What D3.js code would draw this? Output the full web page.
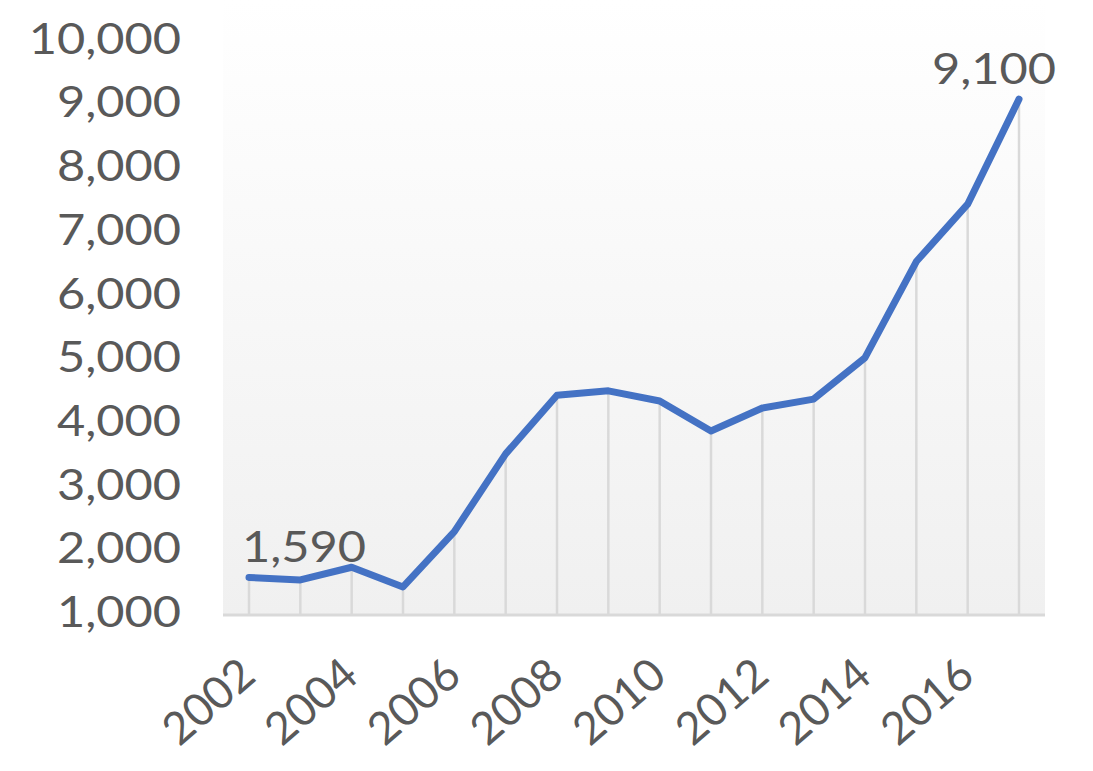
<!DOCTYPE html>
<html>
<head>
<meta charset="utf-8">
<script src="https://cdn.jsdelivr.net/npm/d3@7"></script>
<style>
  html, body { margin: 0; padding: 0; background: #ffffff; }
  svg { display: block; }
  text { font-family: Lato, "Open Sans", sans-serif; fill: #595959; }
</style>
</head>
<body>
<svg id="chart" width="1093" height="771"></svg>
<script>
const years  = [2002, 2003, 2004, 2005, 2006, 2007, 2008, 2009, 2010, 2011, 2012, 2013, 2014, 2015, 2016, 2017];
const values = [1590, 1550, 1750, 1440, 2310, 3530, 4450, 4520, 4360, 3890, 4250, 4390, 5040, 6550, 7450, 9100];
const yTicks = [1000, 2000, 3000, 4000, 5000, 6000, 7000, 8000, 9000, 10000];
const xTickLabels = [2002, 2004, 2006, 2008, 2010, 2012, 2014, 2016];
const labelled = [{year: 2002, value: 1590, pos: "start"}, {year: 2017, value: 9100, pos: "end"}];

const svg = d3.select("#chart");
const SX = 1.16; // horizontal text stretch seen in the reference
const fmt = d3.format(",");

const x = d3.scaleLinear().domain([2002, 2017]).range([249, 1019]);
const y = d3.scaleLinear().domain([1000, 10000]).range([615, 41.8]);

const plotLeft = 223, plotRight = 1045, plotTop = 0, plotBottom = y(1000);

// background gradient
const defs = svg.append("defs");
const grad = defs.append("linearGradient").attr("id", "bg").attr("x1", 0).attr("y1", 0).attr("x2", 0).attr("y2", 1);
grad.append("stop").attr("offset", "0%").attr("stop-color", "#ffffff");
grad.append("stop").attr("offset", "100%").attr("stop-color", "#f0f0f0");
svg.append("rect")
  .attr("x", plotLeft).attr("y", plotTop)
  .attr("width", plotRight - plotLeft).attr("height", plotBottom - plotTop)
  .attr("fill", "url(#bg)");

// drop lines
svg.append("g").selectAll("line").data(years).join("line")
  .attr("x1", (d) => x(d)).attr("x2", (d) => x(d))
  .attr("y1", (d, i) => y(values[i])).attr("y2", y(1000))
  .attr("stroke", "#d9d9d9").attr("stroke-width", 2.5);

// x axis line
svg.append("line")
  .attr("x1", plotLeft).attr("x2", plotRight)
  .attr("y1", y(1000)).attr("y2", y(1000))
  .attr("stroke", "#d9d9d9").attr("stroke-width", 3);

// y axis labels
svg.append("g").selectAll("text").data(yTicks).join("text")
  .attr("text-anchor", "end")
  .attr("font-size", 42)
  .attr("transform", (d) => `translate(181,${y(d) + 12}) scale(${SX},1)`)
  .text((d) => fmt(d));

// x axis labels
svg.append("g").selectAll("text").data(xTickLabels).join("text")
  .attr("text-anchor", "end")
  .attr("font-size", 45)
  .attr("transform", (d) => `translate(${x(d) + 9},679) rotate(-41)`)
  .text((d) => d);

// line
const line = d3.line().x((d) => x(d[0])).y((d) => y(d[1]));
svg.append("path")
  .datum(years.map((yr, i) => [yr, values[i]]))
  .attr("d", line)
  .attr("fill", "none")
  .attr("stroke", "#4472C4")
  .attr("stroke-width", 7)
  .attr("stroke-linejoin", "round")
  .attr("stroke-linecap", "round");

// data labels
svg.append("g").selectAll("text").data(labelled).join("text")
  .attr("text-anchor", (d) => d.pos)
  .attr("font-size", 42)
  .attr("transform", (d) => {
    const px = d.pos === "start" ? x(d.year) - 7 : x(d.year) + 37;
    return `translate(${px},${y(d.value) - 15}) scale(${SX},1)`;
  })
  .text((d) => fmt(d.value));
</script>
</body>
</html>
